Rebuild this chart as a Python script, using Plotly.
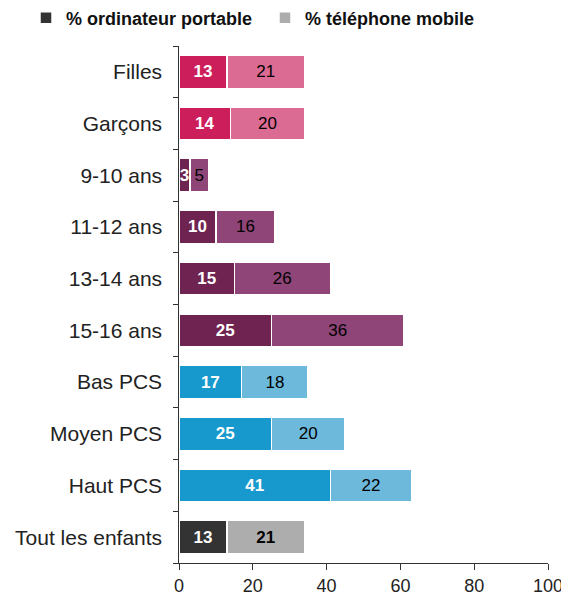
import plotly.graph_objects as go

# categories listed bottom -> top (first row = "Tout les enfants")
categories = ['Tout les enfants', 'Haut PCS', 'Moyen PCS', 'Bas PCS',
              '15-16 ans', '13-14 ans', '11-12 ans', '9-10 ans', 'Garçons', 'Filles']
ordinateur = [13, 41, 25, 17, 25, 15, 10, 3, 14, 13]
telephone = [21, 22, 20, 18, 36, 26, 16, 5, 20, 21]

colors_dark = ['#333333', '#1799CD', '#1799CD', '#1799CD',
               '#6F2350', '#6F2350', '#6F2350', '#6F2350', '#CC1E5B', '#CC1E5B']
colors_light = ['#ADADAD', '#6CB9DC', '#6CB9DC', '#6CB9DC',
                '#8F4577', '#8F4577', '#8F4577', '#8F4577', '#DC6B93', '#DC6B93']

font = 'Liberation Sans, Arial, sans-serif'

text1 = ['<b>%d</b>' % v for v in ordinateur]
text2 = ['<b>%d</b>' % v if i == 0 else str(v) for i, v in enumerate(telephone)]

fig = go.Figure()
fig.add_bar(y=categories, x=ordinateur, orientation='h', name='% ordinateur portable',
            marker=dict(color=colors_dark, line=dict(color='white', width=1.5)),
            text=text1, textposition='inside', insidetextanchor='middle',
            constraintext='none', textangle=0,
            textfont=dict(color='white', size=17, family=font))
fig.add_bar(y=categories, x=telephone, orientation='h', name='% téléphone mobile',
            marker=dict(color=colors_light, line=dict(color='white', width=1.5)),
            text=text2, textposition='inside', insidetextanchor='middle',
            constraintext='none', textangle=0,
            textfont=dict(color='black', size=17, family=font))

# the page body adds an 8px offset, margins are compensated for it
ml, mr, mt, mb = 171, 29, 38, 45
pw, ph = 569 - ml - mr, 600 - mt - mb

fig.update_layout(
    barmode='stack', bargap=0.36,
    width=569, height=600,
    plot_bgcolor='white', paper_bgcolor='white',
    margin=dict(l=ml, r=mr, t=mt, b=mb, autoexpand=False),
    font=dict(family=font, size=17, color='#222222'),
    showlegend=True,
    legend=dict(orientation='h', x=(18 - ml) / pw, xanchor='left',
                y=1 + (mt - 10) / ph, yanchor='middle',
                entrywidth=194, entrywidthmode='pixels',
                font=dict(size=18, family=font, weight='bold', color='#111111'),
                traceorder='normal'),
)
fig.update_xaxes(range=[0, 100], tickvals=[0, 20, 40, 60, 80, 100], showgrid=False,
                 showline=True, linecolor='#333333', linewidth=1,
                 ticks='outside', ticklen=6, tickcolor='#333333',
                 tickfont=dict(size=18), zeroline=False)
fig.update_yaxes(categoryorder='array', categoryarray=categories, showgrid=False,
                 showline=True, linecolor='#333333', linewidth=1,
                 ticks='outside', ticklen=5, tickcolor='#333333', tickson='boundaries',
                 tickfont=dict(size=21), ticksuffix='  ')

fig.write_html('out.html')
